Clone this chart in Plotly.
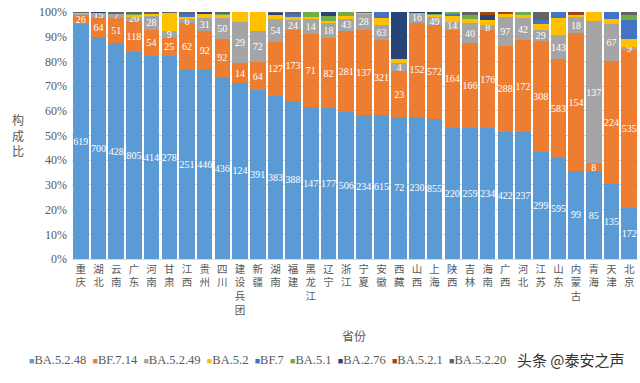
import plotly.graph_objects as go

provinces = ["重庆", "湖北", "云南", "广东", "河南", "甘肃", "江西", "贵州", "四川", "建设兵团",
             "新疆", "湖南", "福建", "黑龙江", "辽宁", "浙江", "宁夏", "安徽", "西藏", "山西",
             "上海", "陕西", "吉林", "海南", "广西", "河北", "江苏", "山东", "内蒙古", "青海",
             "天津", "北京"]

series_names = ["BA.5.2.48", "BF.7.14", "BA.5.2.49", "BA.5.2", "BF.7", "BA.5.1",
                "BA.2.76", "BA.5.2.1", "BA.5.2.20"]

BA5248 = [619, 700, 428, 805, 414, 278, 251, 446, 436, 124, 391, 383, 388, 147, 177, 506,
          234, 615, 72, 230, 855, 220, 259, 234, 422, 237, 299, 595, 99, 85, 135, 172]
BF714 = [26, 64, 51, 118, 54, 25, 62, 92, 92, 14, 64, 127, 173, 71, 82, 281,
         137, 321, 23, 152, 572, 164, 166, 176, 288, 172, 308, 583, 154, 8, 224, 535]
BA5249 = [3, 15, 7, 20, 28, 9, 6, 31, 50, 29, 72, 54, 24, 14, 18, 43,
          28, 63, 4, 16, 49, 14, 40, 8, 97, 42, 29, 143, 18, 137, 67, 9]
BA52 = [2, 0, 0, 5, 5, 25, 2, 10, 6, 7, 44, 9, 8, 2, 3, 8,
        1, 30, 2, 0, 15, 10, 8, 10, 8, 6, 19, 100, 3, 9, 8, 28]
BF7 = [0, 0, 0, 0, 0, 0, 5, 0, 0, 0, 0, 0, 8, 0, 0, 0,
       0, 25, 0, 0, 0, 3, 0, 0, 0, 0, 9, 35, 0, 0, 13, 62]
BA51 = [0, 0, 0, 3, 0, 0, 0, 0, 5, 0, 0, 0, 0, 5, 5, 15,
        0, 0, 0, 0, 8, 3, 8, 0, 0, 5, 0, 0, 0, 0, 0, 19]
BA276 = [0, 1, 0, 0, 0, 0, 0, 5, 0, 0, 0, 5, 0, 0, 5, 0,
         0, 0, 24, 1, 8, 0, 0, 9, 0, 0, 0, 0, 0, 0, 0, 0]
BA521 = [0, 0, 0, 0, 0, 0, 0, 0, 0, 0, 0, 0, 0, 0, 0, 0,
         0, 0, 0, 0, 0, 0, 0, 5, 7, 0, 0, 0, 3, 0, 0, 0]
BA5220 = [1, 0, 4, 8, 3, 1, 2, 0, 3, 0, 0, 2, 4, 0, 0, 0,
          1, 0, 0, 0, 0, 0, 6, 0, 0, 0, 23, 0, 0, 0, 0, 9]

series_values = [BA5248, BF714, BA5249, BA52, BF7, BA51, BA276, BA521, BA5220]
colors = ["#5B9BD5", "#ED7D31", "#A5A5A5", "#FFC000", "#4472C4", "#70AD47",
          "#264478", "#9E480E", "#636363"]
labeled = [True, True, True, False, False, False, False, False, False]

y_ticks = [0, 10, 20, 30, 40, 50, 60, 70, 80, 90, 100]
y_ticktext = [f"{v}%" for v in y_ticks]

W, H = 640, 383
ML, MR, MT, MB = 72, 2, 12, 124
PW, PH = W - ML - MR, H - MT - MB


def px(x):
    return (x - ML) / PW


def py(y):
    return (H - MB - y) / PH


fig = go.Figure()
for name, vals, col, lab in zip(series_names, series_values, colors, labeled):
    texts = [str(v) if (lab and v > 3) else "" for v in vals]
    fig.add_trace(go.Bar(
        x=provinces, y=vals, name=name, marker=dict(color=col, line=dict(width=0)),
        text=texts, textposition="inside", insidetextanchor="middle",
        textangle=0, constraintext="none",
        textfont=dict(family="Liberation Serif", size=10, color="white"),
        showlegend=False, hoverinfo="x+y+name",
    ))

tick_text = ["<br>".join(list(p)) for p in provinces]

legend_text = "  ".join(
    f"<span style='color:{c};font-size:9px'>■</span>{n}" for n, c in zip(series_names, colors)
)

fig.update_layout(
    width=W, height=H, autosize=False, barmode="stack", barnorm="percent", bargap=0.12,
    margin=dict(l=ML, r=MR, t=MT, b=MB, pad=0, autoexpand=False),
    plot_bgcolor="white", paper_bgcolor="white",
    font=dict(family="Liberation Serif", color="#595959", size=12),
    xaxis=dict(
        tickmode="array", tickvals=provinces, ticktext=tick_text,
        tickfont=dict(family="Noto Sans CJK SC", size=10.5, color="#595959"),
        showline=True, linecolor="#D9D9D9", linewidth=1, ticks="",
        tickangle=0, range=[-0.5, len(provinces) - 0.5], automargin=False,
    ),
    yaxis=dict(
        range=[0, 100], tickmode="array", tickvals=y_ticks, ticktext=y_ticktext,
        showgrid=True, gridcolor="#D9D9D9", zeroline=False, ticks="",
        tickfont=dict(family="Liberation Serif", size=12, color="#595959"),
        ticklabelstandoff=4, automargin=False,
    ),
    annotations=[
        dict(text="构<br>成<br>比", x=px(18), y=py(135), xref="paper", yref="paper",
             xanchor="center", yanchor="middle",
             showarrow=False, font=dict(family="Noto Sans CJK SC", size=12, color="#595959")),
        dict(text="省份", x=px(354), y=py(335), xref="paper", yref="paper",
             xanchor="center", yanchor="middle",
             showarrow=False, font=dict(family="Noto Sans CJK SC", size=12, color="#595959")),
        dict(text=legend_text, x=px(27), y=py(369), xref="paper", yref="paper",
             xanchor="left", yanchor="bottom", showarrow=False,
             font=dict(family="Liberation Serif", size=12.5, color="#595959")),
        dict(text="头条 @泰安之声", x=px(571), y=py(359), xref="paper", yref="paper",
             xanchor="center", yanchor="middle",
             showarrow=False, font=dict(family="Noto Sans CJK SC", size=15, color="#333333"),
             bgcolor="rgba(255,255,255,0.6)"),
    ],
)

fig.write_html("out.html", config={"responsive": False, "displayModeBar": False},
               post_script="document.body.style.margin='0px';document.body.style.overflow='hidden';")
